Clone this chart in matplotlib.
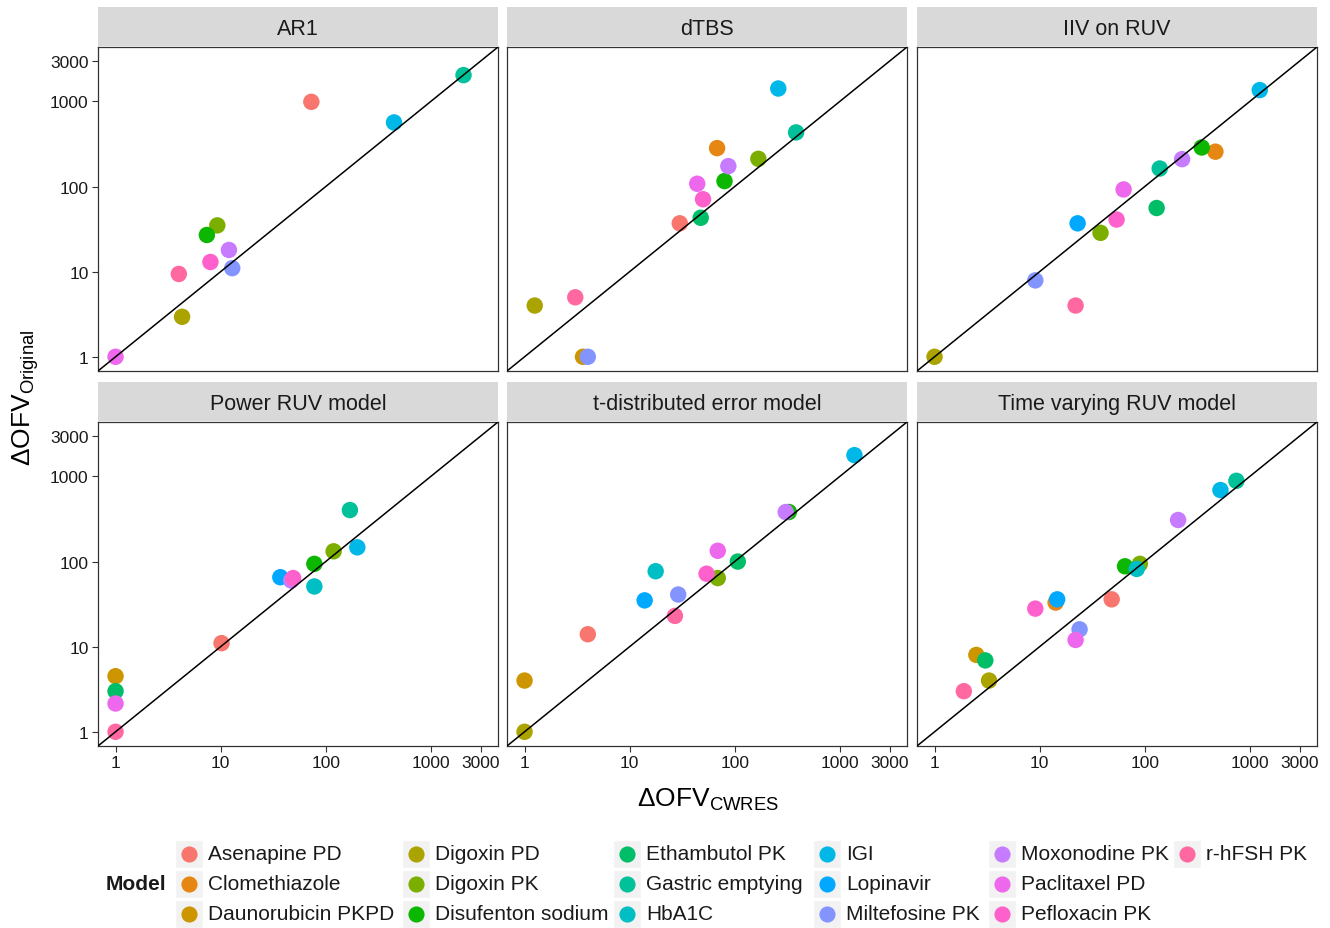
import numpy as np
import matplotlib
matplotlib.use("Agg")
import matplotlib.pyplot as plt
from matplotlib.patches import Rectangle
from matplotlib.ticker import FixedLocator, NullLocator


MODELS = [
    "Asenapine PD", "Clomethiazole", "Daunorubicin PKPD", "Digoxin PD",
    "Digoxin PK", "Disufenton sodium", "Ethambutol PK", "Gastric emptying",
    "HbA1C", "IGI", "Lopinavir", "Miltefosine PK", "Moxonodine PK",
    "Paclitaxel PD", "Pefloxacin PK", "r-hFSH PK",
]

AR1_MODEL = ["Asenapine PD", "Digoxin PD", "Digoxin PK", "Disufenton sodium", "Gastric emptying",
             "IGI", "Miltefosine PK", "Moxonodine PK", "Paclitaxel PD", "Pefloxacin PK", "r-hFSH PK"]
AR1_CWRES = [73, 4.3, 9.3, 7.4, 2050, 447, 12.9, 12, 1, 8, 4]
AR1_ORIG = [990, 2.95, 35, 27, 2040, 567, 11, 18, 1, 13, 9.4]

DTBS_MODEL = ["Asenapine PD", "Clomethiazole", "Daunorubicin PKPD", "Digoxin PD", "Digoxin PK",
              "Disufenton sodium", "Ethambutol PK", "Gastric emptying", "IGI", "Miltefosine PK",
              "Moxonodine PK", "Paclitaxel PD", "Pefloxacin PK", "r-hFSH PK"]
DTBS_CWRES = [30, 68, 3.6, 1.25, 168, 80, 47.5, 384, 260, 4.0, 87, 44, 50, 3.04]
DTBS_ORIG = [37, 283, 1, 4, 212, 116, 43, 433, 1420, 1, 174, 108, 71, 5]

IIV_MODEL = ["Clomethiazole", "Digoxin PD", "Digoxin PK", "Disufenton sodium", "Ethambutol PK",
             "Gastric emptying", "IGI", "Lopinavir", "Miltefosine PK", "Moxonodine PK",
             "Paclitaxel PD", "Pefloxacin PK", "r-hFSH PK"]
IIV_CWRES = [471, 1, 38, 349, 130, 139, 1245, 23, 9.1, 227, 63, 54, 22]
IIV_ORIG = [257, 1, 28.6, 288, 56, 163, 1360, 37, 7.9, 210, 92.5, 41, 4]

POWER_MODEL = ["Asenapine PD", "Daunorubicin PKPD", "Digoxin PK", "Disufenton sodium", "Ethambutol PK",
               "Gastric emptying", "HbA1C", "IGI", "Lopinavir", "Moxonodine PK", "Paclitaxel PD",
               "Pefloxacin PK", "r-hFSH PK"]
POWER_CWRES = [10.2, 1, 119, 78, 1, 170, 78, 200, 37, 47, 1, 49, 1]
POWER_ORIG = [11, 4.5, 132, 94, 3, 403, 51, 147, 65.5, 60, 2.15, 64, 1]

TDIST_MODEL = ["Asenapine PD", "Daunorubicin PKPD", "Digoxin PD", "Digoxin PK", "Disufenton sodium",
               "Ethambutol PK", "HbA1C", "IGI", "Lopinavir", "Miltefosine PK", "Moxonodine PK",
               "Paclitaxel PD", "Pefloxacin PK", "r-hFSH PK"]
TDIST_CWRES = [4, 1, 1, 69, 328, 107, 17.7, 1380, 13.9, 29, 306, 69, 54, 27]
TDIST_ORIG = [14, 4, 1, 64, 382, 100, 77, 1780, 35, 41, 382, 134, 72, 23]

TIME_MODEL = ["Asenapine PD", "Clomethiazole", "Daunorubicin PKPD", "Digoxin PD", "Digoxin PK",
              "Disufenton sodium", "Ethambutol PK", "Gastric emptying", "HbA1C", "IGI", "Lopinavir",
              "Miltefosine PK", "Moxonodine PK", "Paclitaxel PD", "Pefloxacin PK", "r-hFSH PK"]
TIME_CWRES = [48.5, 14.2, 2.5, 3.3, 90, 65, 3.04, 746, 84, 526, 14.7, 24, 208, 22, 9.1, 1.9]
TIME_ORIG = [36, 33, 8, 4, 94, 88, 6.9, 889, 82, 692, 36, 16, 308, 12, 28, 3]

FACETS = [
    ("AR1", AR1_MODEL, AR1_CWRES, AR1_ORIG),
    ("dTBS", DTBS_MODEL, DTBS_CWRES, DTBS_ORIG),
    ("IIV on RUV", IIV_MODEL, IIV_CWRES, IIV_ORIG),
    ("Power RUV model", POWER_MODEL, POWER_CWRES, POWER_ORIG),
    ("t-distributed error model", TDIST_MODEL, TDIST_CWRES, TDIST_ORIG),
    ("Time varying RUV model", TIME_MODEL, TIME_CWRES, TIME_ORIG),
]

TICKS = [1, 10, 100, 1000, 3000]
TICK_LABELS = ["1", "10", "100", "1000", "3000"]


def hue_pal(n, c=100.0, l=65.0):
    # ggplot2 default discrete palette (polar LUV -> sRGB)
    xn, yn, zn = 95.047, 100.0, 108.883
    un = 4 * xn / (xn + 15 * yn + 3 * zn)
    vn = 9 * yn / (xn + 15 * yn + 3 * zn)
    out = []
    for h in np.linspace(15, 375, n + 1)[:-1]:
        u, v = c * np.cos(np.radians(h)), c * np.sin(np.radians(h))
        y = yn * ((l + 16) / 116) ** 3
        up, vp = u / (13 * l) + un, v / (13 * l) + vn
        x = y * 9 * up / (4 * vp)
        z = y * (12 - 3 * up - 20 * vp) / (4 * vp)
        xyz = np.array([x, y, z]) / 100
        m = np.array([[3.2404542, -1.5371385, -0.4985314],
                      [-0.9692660, 1.8760108, 0.0415560],
                      [0.0556434, -0.2040259, 1.0572252]])
        rgb = m @ xyz
        rgb = np.where(rgb <= 0.0031308, 12.92 * rgb, 1.055 * np.abs(rgb) ** (1 / 2.4) - 0.055)
        out.append(tuple(np.clip(rgb, 0, 1)))
    return out


COLORS = dict(zip(MODELS, hue_pal(len(MODELS))))

plt.rcParams["font.family"] = ["Liberation Sans", "DejaVu Sans"]
plt.rcParams["mathtext.fontset"] = "custom"
plt.rcParams["mathtext.rm"] = "Liberation Sans"
plt.rcParams["mathtext.it"] = "Liberation Sans:italic"

W, H = 1330, 929
COL_X = [98, 507, 917]
ROW_Y = [48, 423]
PANEL_W, PANEL_H, STRIP_H = 400, 324, 39
LIMS = (10 ** -0.167, 10 ** 3.64)
EDGE = "#333333"


def px_rect(x, y, w, h):
    return [x / W, 1 - (y + h) / H, w / W, h / H]


fig = plt.figure(figsize=(W / 100, H / 100), dpi=100)

for i, (title, models, cwres, orig) in enumerate(FACETS):
    row, col = divmod(i, 3)
    ax = fig.add_axes(px_rect(COL_X[col], ROW_Y[row], PANEL_W, PANEL_H))
    ax.set_xscale("log")
    ax.set_yscale("log")
    ax.set_xlim(LIMS)
    ax.set_ylim(LIMS)
    ax.scatter(cwres, orig, s=140, c=[COLORS[m] for m in models], linewidths=0, zorder=2)
    ax.axline((1, 1), (1000, 1000), color="black", lw=1.1, zorder=3)
    for axis in (ax.xaxis, ax.yaxis):
        axis.set_major_locator(FixedLocator(TICKS))
        axis.set_minor_locator(NullLocator())
    ax.set_xticklabels(TICK_LABELS)
    ax.set_yticklabels(TICK_LABELS)
    for spine in ax.spines.values():
        spine.set_color(EDGE)
        spine.set_linewidth(0.9)
    ax.tick_params(direction="out", length=4.3, width=0.8, color=EDGE, labelsize=12.5,
                   labelcolor="#1a1a1a", pad=2.5)
    ax.tick_params(axis="x", bottom=(row == 1), labelbottom=(row == 1))
    ax.tick_params(axis="y", left=(col == 0), labelleft=(col == 0))

    strip = fig.add_axes(px_rect(COL_X[col], ROW_Y[row] - STRIP_H - 1, PANEL_W, STRIP_H))
    strip.set_facecolor("#d9d9d9")
    strip.set_xticks([])
    strip.set_yticks([])
    for spine in strip.spines.values():
        spine.set_visible(False)
    strip.text(0.5, 0.45, title, ha="center", va="center", fontsize=15.5, color="#1a1a1a",
               transform=strip.transAxes)

fig.text(708 / W, 1 - 800 / H, r"$\mathrm{\Delta OFV}_{\mathrm{CWRES}}$", ha="center", va="center",
         fontsize=19)
fig.text(26 / W, 1 - 398 / H, r"$\mathrm{\Delta OFV}_{\mathrm{Original}}$", ha="center", va="center",
         fontsize=19, rotation=90)

# legend, laid out column-wise like ggplot (3 rows)
lax = fig.add_axes([0, 0, 1, 1], zorder=-1)
lax.set_xlim(0, W)
lax.set_ylim(H, 0)
lax.axis("off")
key_x = [189, 416, 627, 827, 1002, 1187]
key_y = [855, 885, 915]
lax.text(106, 885, "Model", ha="left", va="center", fontsize=15, fontweight="bold", color="#1a1a1a")
for k, name in enumerate(MODELS):
    cx, cy = key_x[k // 3], key_y[k % 3]
    lax.add_patch(Rectangle((cx - 14, cy - 14), 28, 28, facecolor="#f2f2f2", edgecolor="white", lw=1))
    lax.scatter([cx], [cy], s=135, color=COLORS[name], linewidths=0)
    lax.text(cx + 19, cy, name, ha="left", va="center", fontsize=15, color="#1a1a1a")

fig.savefig("out.png", dpi=100)
